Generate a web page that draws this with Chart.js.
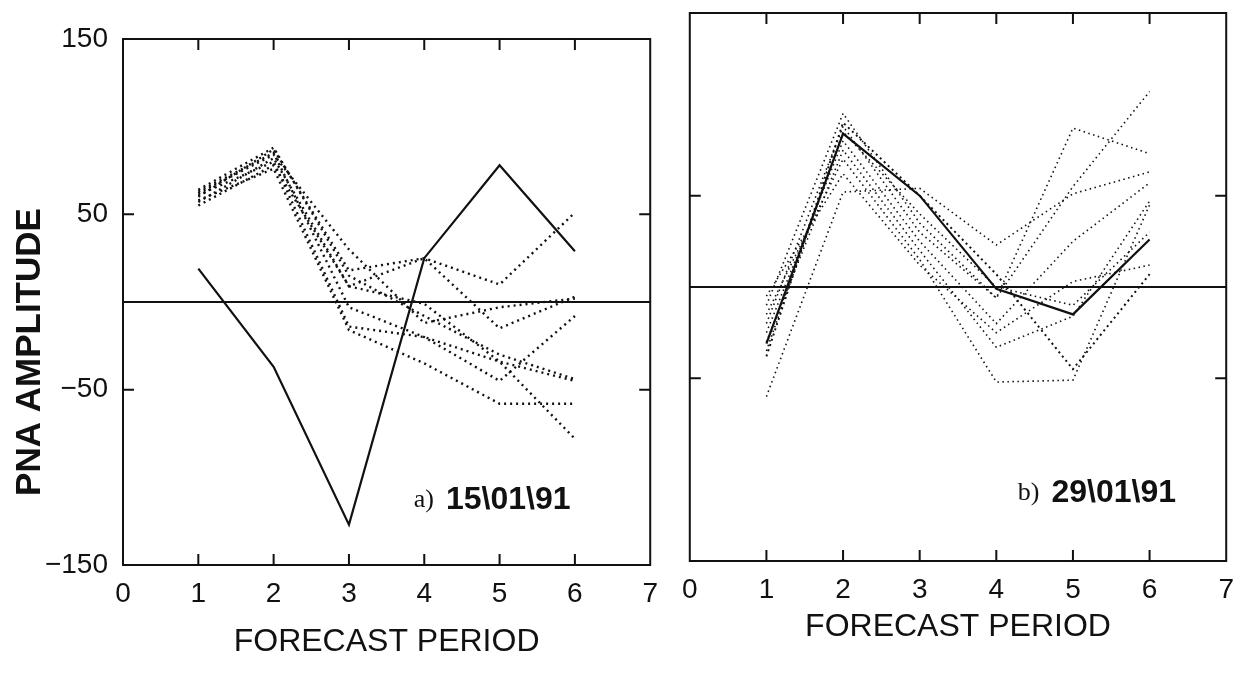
<!DOCTYPE html>
<html>
<head>
<meta charset="utf-8">
<script src="https://cdn.jsdelivr.net/npm/chart.js@4/dist/chart.umd.min.js"></script>
<style>
  body { margin: 0; background: #fff; width: 1246px; height: 674px; overflow: hidden; position: relative; }
  canvas { position: absolute; top: 0; }
  #chartA { left: 0; }
  #chartB { left: 670px; }
</style>
</head>
<body>
<canvas id="chartA" width="670" height="674"></canvas>
<canvas id="chartB" width="576" height="674"></canvas>
<script>
// forecast periods and axis ticks
const periods = [1, 2, 3, 4, 5, 6];
const innerXTicks = [1, 2, 3, 4, 5, 6];
const innerYTicks = [-50, 50];
const zeroX = [0, 7];
const zeroY = [0, 0];

// a) 15\01\91 - observed (solid) and ensemble members (dotted)
const obsA = [19, -37, -127, 25, 78, 29];
const ensA1 = [60, 87, 18, 25, 10, 51];
const ensA2 = [57, 82, 9, 25, -15, 3];
const ensA3 = [62, 84, 30, -12, -3, 2];
const ensA4 = [55, 78, 9, -1, -34, -78];
const ensA5 = [61, 80, -14, -20, -34, -45];
const ensA6 = [58, 76, -16, -35, -58, -58];
const ensA7 = [63, 85, -3, -20, -45, -8];
const ensA8 = [64, 88, 15, -8, -30, -44];

// b) 29\01\91
const obsB = [-31, 84, 50, -1, -15, 26];
const ensB1 = [-60, 52, 54, 23, 51, 63];
const ensB2 = [-38, 90, 50, 7, -45, 7];
const ensB3 = [-10, 95, 35, -6, 87, 73];
const ensB4 = [-20, 88, 30, -6, 55, 107];
const ensB5 = [-25, 80, 25, -20, 25, 57];
const ensB6 = [-30, 75, 20, -33, -16, 47];
const ensB7 = [-15, 70, 15, -52, -51, 45];
const ensB8 = [-5, 62, 12, -25, 3, 12];
const ensB9 = [-35, 85, 40, 0, -10, 30];

const INK = '#111';
const SANS = '"Liberation Sans", Arial, Helvetica, sans-serif';

let toPoints = (xs, ys) => xs.map((x, i) => ({x: x, y: ys[i]}));

let solidLine = (vals) => ({
    data: toPoints(periods, vals),
    borderColor: INK,
    borderWidth: 2.2,
    pointRadius: 0,
    tension: 0
});

let dottedLine = (vals, width, dash) => ({
    data: toPoints(periods, vals),
    borderColor: INK,
    borderWidth: width,
    borderDash: dash,
    pointRadius: 0,
    tension: 0
});

let zeroLine = () => ({
    data: toPoints(zeroX, zeroY),
    borderColor: INK,
    borderWidth: 2,
    pointRadius: 0
});

// box round the plot area and inward tick marks on all four sides
const framePlugin = {
    id: 'frame',
    afterDatasetsDraw(chart) {
        const {ctx, chartArea: a, scales: {x, y}} = chart;
        ctx.save();
        ctx.strokeStyle = INK;
        ctx.lineWidth = 2;
        ctx.strokeRect(a.left, a.top, a.right - a.left, a.bottom - a.top);
        ctx.beginPath();
        innerXTicks.forEach(v => {
            const px = x.getPixelForValue(v);
            ctx.moveTo(px, a.bottom); ctx.lineTo(px, a.bottom - 11);
            ctx.moveTo(px, a.top); ctx.lineTo(px, a.top + 11);
        });
        innerYTicks.forEach(v => {
            const py = y.getPixelForValue(v);
            ctx.moveTo(a.left, py); ctx.lineTo(a.left + 11, py);
            ctx.moveTo(a.right, py); ctx.lineTo(a.right - 11, py);
        });
        ctx.stroke();

        // panel label, placed in data units
        const o = chart.options.plugins.frame;
        const lx = x.getPixelForValue(o.labelX);
        const ly = y.getPixelForValue(o.labelY);
        ctx.fillStyle = INK;
        ctx.textBaseline = 'middle';
        ctx.textAlign = 'left';
        ctx.font = '26px "Liberation Serif", "Times New Roman", serif';
        ctx.fillText(o.prefix, lx, ly);
        const w = ctx.measureText(o.prefix).width;
        ctx.font = 'bold 32px ' + SANS;
        ctx.fillText(o.date, lx + w + 12, ly);

        if (o.yTitle) {
            ctx.translate(30, 352);
            ctx.rotate(-Math.PI / 2);
            ctx.textAlign = 'center';
            ctx.font = 'bold 35px ' + SANS;
            ctx.fillText(o.yTitle, 0, 0);
        }
        ctx.restore();
    }
};

let makeOptions = (cfg) => ({
    responsive: false,
    animation: false,
    devicePixelRatio: 1,
    layout: { padding: cfg.padding },
    plugins: {
        legend: { display: false },
        tooltip: { enabled: false },
        frame: cfg.frame
    },
    scales: {
        x: {
            type: 'linear',
            min: 0,
            max: 7,
            afterFit: (s) => { s.height = cfg.xHeight; },
            grid: { display: false, drawTicks: false },
            border: { display: false },
            ticks: {
                stepSize: 1,
                padding: 12,
                color: INK,
                font: { family: SANS, size: 28 }
            },
            title: {
                display: true,
                text: 'FORECAST PERIOD',
                color: INK,
                font: { family: SANS, size: 32 },
                padding: { top: 0, bottom: cfg.titlePad }
            }
        },
        y: {
            type: 'linear',
            min: -150,
            max: 150,
            afterFit: (s) => { s.width = cfg.yWidth; },
            grid: { display: false, drawTicks: false },
            border: { display: false },
            ticks: {
                display: cfg.showYLabels,
                stepSize: 100,
                padding: 15,
                color: INK,
                font: { family: SANS, size: 28 },
                callback: (v) => String(v).replace('-', '\u2212')
            }
        }
    }
});

new Chart(document.getElementById('chartA'), {
    type: 'line',
    data: {
        datasets: [
            zeroLine(),
            dottedLine(ensA1, 2.4, [2, 4]),
            dottedLine(ensA2, 2.4, [2, 4]),
            dottedLine(ensA3, 2.4, [2, 4]),
            dottedLine(ensA4, 2.4, [2, 4]),
            dottedLine(ensA5, 2.4, [2, 4]),
            dottedLine(ensA6, 2.4, [2, 4]),
            dottedLine(ensA7, 2.4, [2, 4]),
            dottedLine(ensA8, 2.4, [2, 4]),
            solidLine(obsA)
        ]
    },
    options: makeOptions({
        padding: { left: 0, right: 18, top: 39, bottom: 0 },
        xHeight: 109,
        yWidth: 123,
        titlePad: 13,
        showYLabels: true,
        frame: { labelX: 3.86, labelY: -113, prefix: 'a)', date: '15\\01\\91', yTitle: 'PNA AMPLITUDE' }
    }),
    plugins: [framePlugin]
});

new Chart(document.getElementById('chartB'), {
    type: 'line',
    data: {
        datasets: [
            zeroLine(),
            dottedLine(ensB1, 1.6, [1.5, 3.5]),
            dottedLine(ensB2, 2, [2, 3.5]),
            dottedLine(ensB3, 1.6, [1.5, 3.5]),
            dottedLine(ensB4, 1.6, [1.5, 3.5]),
            dottedLine(ensB5, 1.6, [1.5, 3.5]),
            dottedLine(ensB6, 1.6, [1.5, 3.5]),
            dottedLine(ensB7, 1.6, [1.5, 3.5]),
            dottedLine(ensB8, 1.6, [1.5, 3.5]),
            dottedLine(ensB9, 1.6, [1.5, 3.5]),
            solidLine(obsB)
        ]
    },
    options: makeOptions({
        padding: { left: 0, right: 14, top: 13, bottom: 0 },
        xHeight: 113,
        yWidth: 14,
        titlePad: 28,
        showYLabels: false,
        frame: { labelX: 4.28, labelY: -113, prefix: 'b)', date: '29\\01\\91' }
    }),
    plugins: [framePlugin]
});
</script>
</body>
</html>
